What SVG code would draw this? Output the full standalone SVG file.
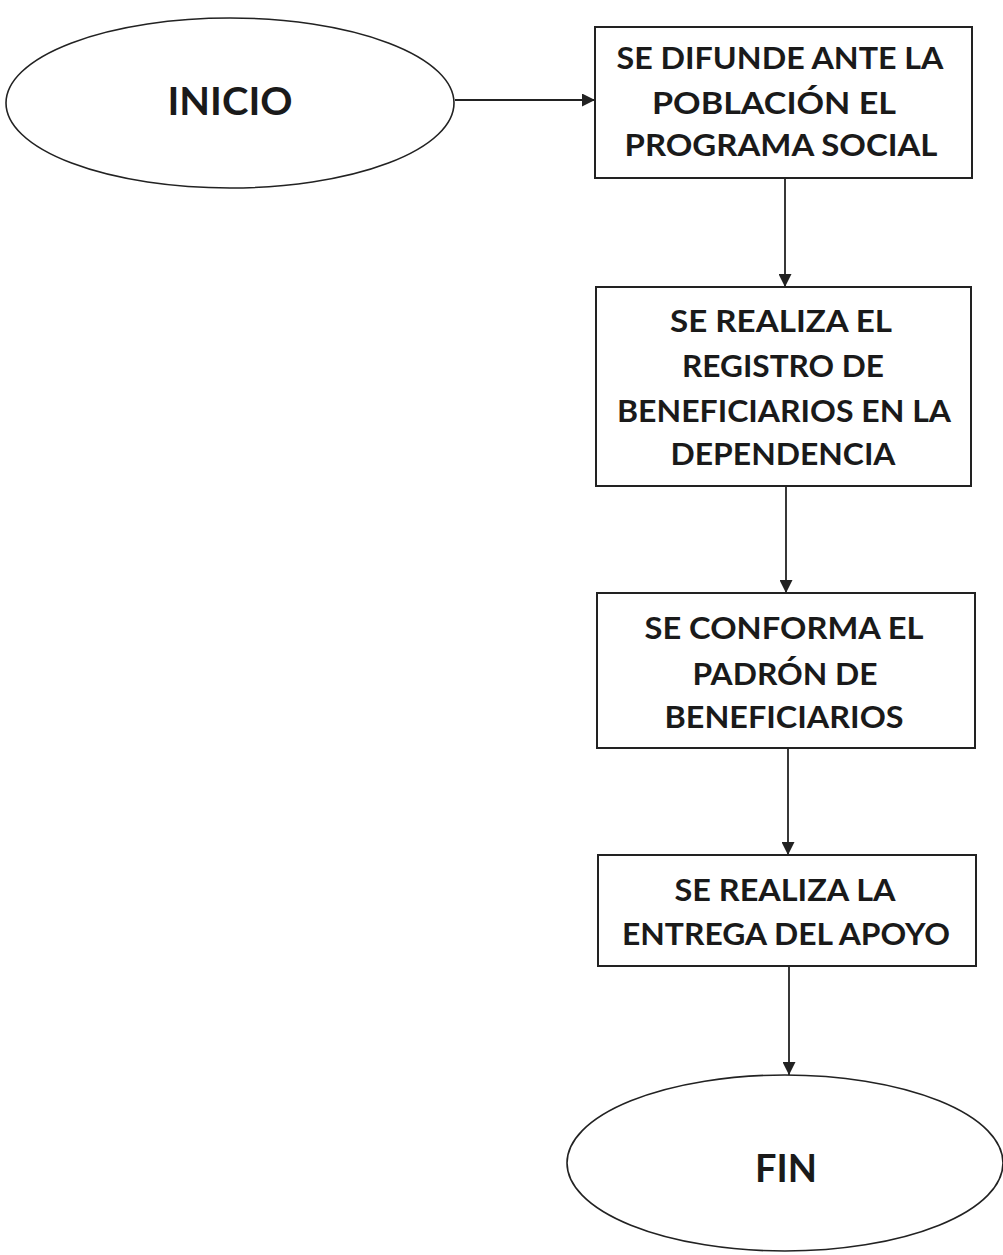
<svg xmlns="http://www.w3.org/2000/svg" width="1003" height="1255" viewBox="0 0 1003 1255">
<defs>
<marker id="ah" viewBox="0 0 12 12" refX="12" refY="6" markerWidth="13" markerHeight="13" markerUnits="userSpaceOnUse" orient="auto">
<path d="M0,0 L12,6 L0,12 z" fill="#222"/>
</marker>
<style>
.box{fill:#fff;stroke:#222;stroke-width:2}
.ell{fill:#fff;stroke:#222;stroke-width:1.6}
.t{font-family:Lato,"Liberation Sans",sans-serif;font-weight:700;font-size:31px;fill:#1a1a1a;text-anchor:middle}
.tb{font-family:Lato,"Liberation Sans",sans-serif;font-weight:700;font-size:39px;fill:#1a1a1a;text-anchor:middle}
.c{stroke:#222;stroke-width:1.8;fill:none;marker-end:url(#ah)}
</style>
</defs>
<rect width="1003" height="1255" fill="#fff"/>
<g id="connectors">
<line class="c" x1="455" y1="100" x2="595" y2="100"/>
<line class="c" x1="785" y1="178" x2="785" y2="287"/>
<line class="c" x1="786" y1="486" x2="786" y2="593"/>
<line class="c" x1="788" y1="748" x2="788" y2="855"/>
<line class="c" x1="789" y1="966" x2="789" y2="1075"/>
</g>
<g id="inicio">
<ellipse class="ell" cx="230" cy="103" rx="224" ry="85"/>
<text class="tb" x="230" y="115" textLength="125" lengthAdjust="spacingAndGlyphs">INICIO</text>
</g>
<g id="difunde">
<rect class="box" x="595" y="27" width="377" height="151"/>
<text class="t" x="780" y="69" textLength="327" lengthAdjust="spacingAndGlyphs">SE DIFUNDE ANTE LA</text>
<text class="t" x="774" y="114" textLength="244" lengthAdjust="spacingAndGlyphs">POBLACIÓN EL</text>
<text class="t" x="781" y="156" textLength="313" lengthAdjust="spacingAndGlyphs">PROGRAMA SOCIAL</text>
</g>
<g id="registro">
<rect class="box" x="596" y="287" width="375" height="199"/>
<text class="t" x="781" y="332" textLength="222" lengthAdjust="spacingAndGlyphs">SE REALIZA EL</text>
<text class="t" x="783" y="377" textLength="202" lengthAdjust="spacingAndGlyphs">REGISTRO DE</text>
<text class="t" x="784" y="422" textLength="334" lengthAdjust="spacingAndGlyphs">BENEFICIARIOS EN LA</text>
<text class="t" x="783" y="465" textLength="225" lengthAdjust="spacingAndGlyphs">DEPENDENCIA</text>
</g>
<g id="padron">
<rect class="box" x="597" y="593" width="378" height="155"/>
<text class="t" x="784" y="639" textLength="279" lengthAdjust="spacingAndGlyphs">SE CONFORMA EL</text>
<text class="t" x="785" y="685" textLength="185" lengthAdjust="spacingAndGlyphs">PADRÓN DE</text>
<text class="t" x="784" y="728" textLength="239" lengthAdjust="spacingAndGlyphs">BENEFICIARIOS</text>
</g>
<g id="entrega">
<rect class="box" x="598" y="855" width="378" height="111"/>
<text class="t" x="785" y="901" textLength="221" lengthAdjust="spacingAndGlyphs">SE REALIZA LA</text>
<text class="t" x="786" y="945" textLength="328" lengthAdjust="spacingAndGlyphs">ENTREGA DEL APOYO</text>
</g>
<g id="fin">
<ellipse class="ell" cx="785" cy="1163" rx="218" ry="88"/>
<text class="tb" x="786" y="1182" textLength="62" lengthAdjust="spacingAndGlyphs">FIN</text>
</g>
</svg>
